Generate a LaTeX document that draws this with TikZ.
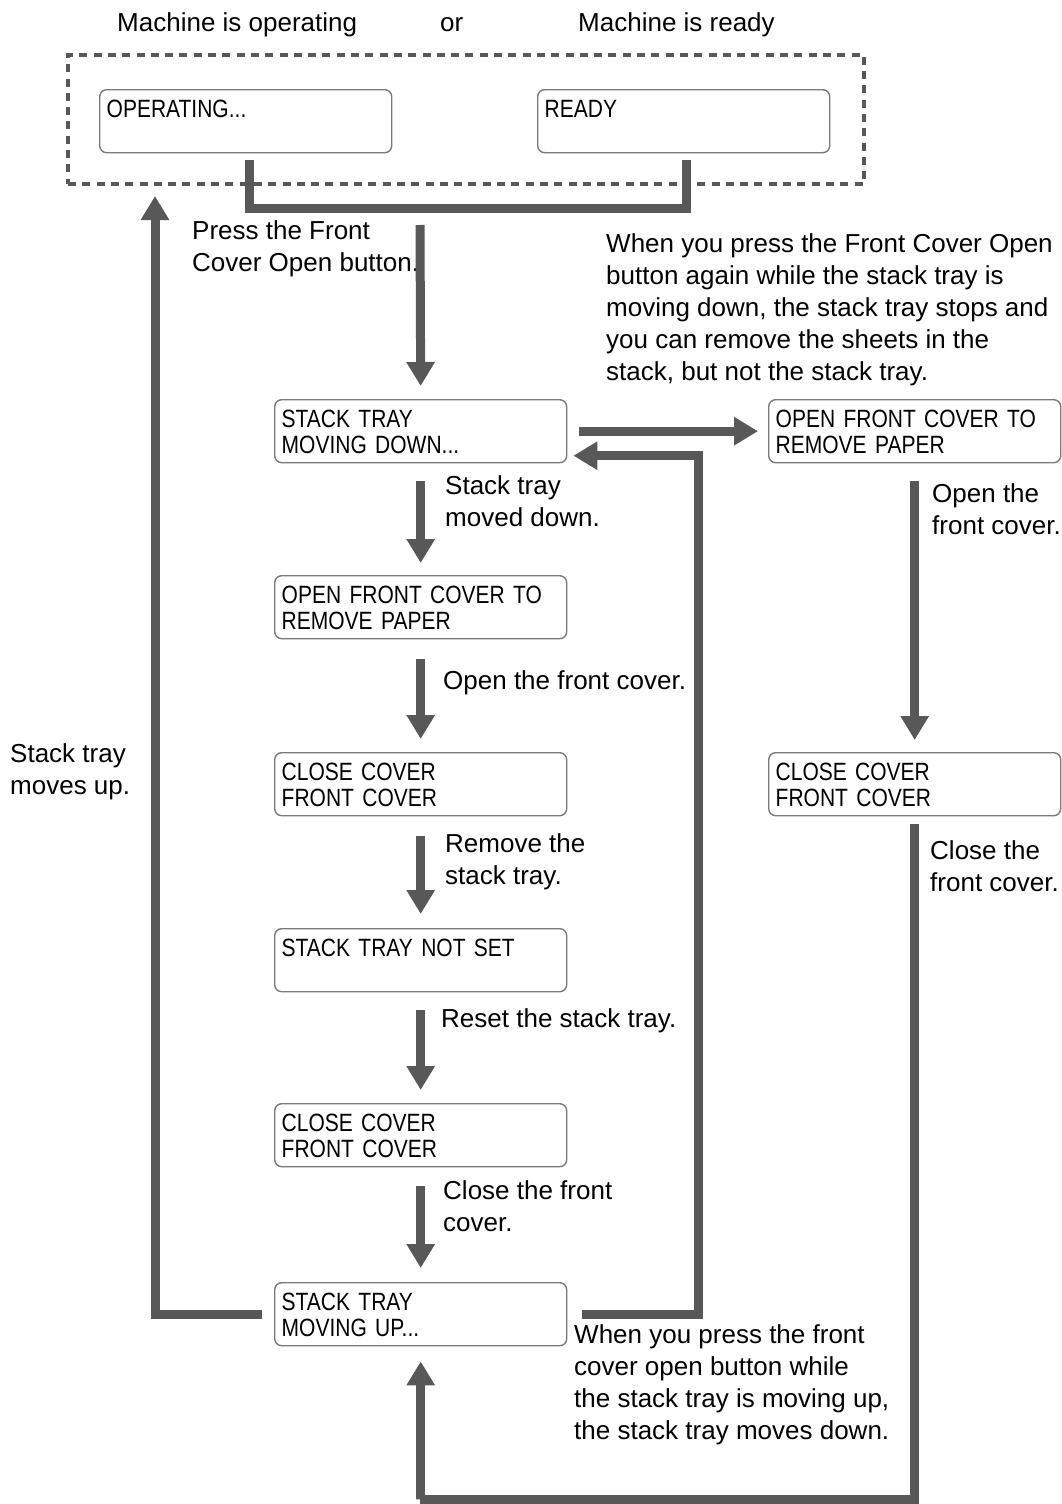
\documentclass[tikz,border=0pt]{standalone}
\usepackage{fontspec}
\setmainfont{Liberation Sans}
\newfontfamily\condfont[FakeStretch=0.84,WordSpace=0.75]{Liberation Sans}
\usetikzlibrary{arrows.meta,calc}
\definecolor{arrgray}{HTML}{585858}
\definecolor{boxgray}{HTML}{7A7A7A}
\newcommand\lblfont{\fontsize{26}{32}\selectfont}
\newcommand\bxfont{\condfont\fontsize{25}{26.5}\selectfont}
\begin{document}
\begin{tikzpicture}[x=1pt,y=-1pt,
 disp/.style={draw=boxgray, line width=1.4pt, rounded corners=7pt, anchor=north west,
   text width=278pt, inner xsep=7pt, inner ysep=0pt, minimum height=63pt, align=left,
   font=\bxfont, execute at begin node={\rule{0pt}{24pt}}, execute at end node={\rule[-5pt]{0pt}{5pt}}},
 lbl/.style={anchor=north west, inner sep=0pt, align=left, font=\lblfont, execute at begin node=\strut},
 flow/.style={draw=arrgray, line width=9pt},
 arr/.style={flow, -{Triangle[width=27pt,length=24pt]}},
 grp/.style={draw=arrgray, line width=4pt, dash pattern=on 8pt off 6.3pt, anchor=north west,
   minimum width=796pt, minimum height=129pt, inner sep=0pt}]
\useasboundingbox (0,0) rectangle (1062,1504);

% group box
\node[grp] (grp) at (66,53) {};

% displays
\node[disp] (op) at (99,89) {OPERATING...\\\mbox{}};
\node[disp] (rdy) at (537,89) {READY\\\mbox{}};
\node[disp] (down) at (274,399) {STACK TRAY\\MOVING DOWN...};
\node[disp] (open1) at (274,575) {OPEN FRONT COVER TO\\REMOVE PAPER};
\node[disp] (close1) at (274,752) {CLOSE COVER\\FRONT COVER};
\node[disp] (notset) at (274,928) {STACK TRAY NOT SET\\\mbox{}};
\node[disp] (close2) at (274,1103) {CLOSE COVER\\FRONT COVER};
\node[disp] (up) at (274,1282) {STACK TRAY\\MOVING UP...};
\node[disp] (open2) at (768,399) {OPEN FRONT COVER TO\\REMOVE PAPER};
\node[disp] (close3) at (768,752) {CLOSE COVER\\FRONT COVER};

% labels
\node[lbl] (t1) at (117,8.75) {Machine is operating};
\node[lbl] (t2) at (440,8.75) {or};
\node[lbl] (t3) at (578,8.75) {Machine is ready};
\node[lbl] (l1) at (192,220.75) {Press the Front\\Cover Open button.};
\node[lbl] (l2) at (606,233.75) {When you press the Front Cover Open\\button again while the stack tray is\\moving down, the stack tray stops and\\you can remove the sheets in the\\stack, but not the stack tray.};
\node[lbl] (l3) at (445,475.75) {Stack tray\\moved down.};
\node[lbl] (l4) at (443,666.75) {Open the front cover.};
\node[lbl] (l5) at (445,833.75) {Remove the\\stack tray.};
\node[lbl] (l6) at (441,1004.75) {Reset the stack tray.};
\node[lbl] (l7) at (443,1180.75) {Close the front\\cover.};
\node[lbl] (l8) at (10,743.75) {Stack tray\\moves up.};
\node[lbl] (l9) at (932,483.75) {Open the\\front cover.};
\node[lbl] (l10) at (930,840.75) {Close the\\front cover.};
\node[lbl] (l11) at (574,1324.75) {When you press the front\\cover open button while\\the stack tray is moving up,\\the stack tray moves down.};

% connectors
\coordinate (tj) at (420,208);
\draw[flow] ([xshift=4pt,yshift=-7pt]op.south) |- (tj) -| ([xshift=3pt,yshift=-7pt]rdy.south);
\draw[arr] ([yshift=-17pt]tj) -- ([yshift=13pt]down.north);
\draw[arr] ([yshift=-18pt]down.south) -- ([yshift=12pt]open1.north);
\draw[arr] ([yshift=-20pt]open1.south) -- ([yshift=13pt]close1.north);
\draw[arr] ([yshift=-20pt]close1.south) -- ([yshift=14pt]notset.north);
\draw[arr] ([yshift=-18pt]notset.south) -- ([yshift=13pt]close2.north);
\draw[arr] ([yshift=-19pt]close2.south) -- ([yshift=14pt]up.north);
\draw[arr] ([xshift=12pt]down.east) -- ([xshift=-10pt]open2.west);
\draw[arr] ([yshift=-18pt]open2.south) -- ([yshift=12pt]close3.north);

\coordinate (rx) at (698,0);
\coordinate (dret) at ($(down.east)+(6,24.5)$);
\draw[arr] ([xshift=15pt]up.east) -| (rx |- dret) -- (dret);

\coordinate (lx) at (155,0);
\draw[arr] ([xshift=-12pt]up.west) -| ($(lx |- grp.south)+(0,10)$);

\coordinate (bot) at (420,1499);
\draw[arr] ([yshift=-8pt]close3.south) |- (bot) -| ([yshift=-15pt]up.south);
\end{tikzpicture}
\end{document}
